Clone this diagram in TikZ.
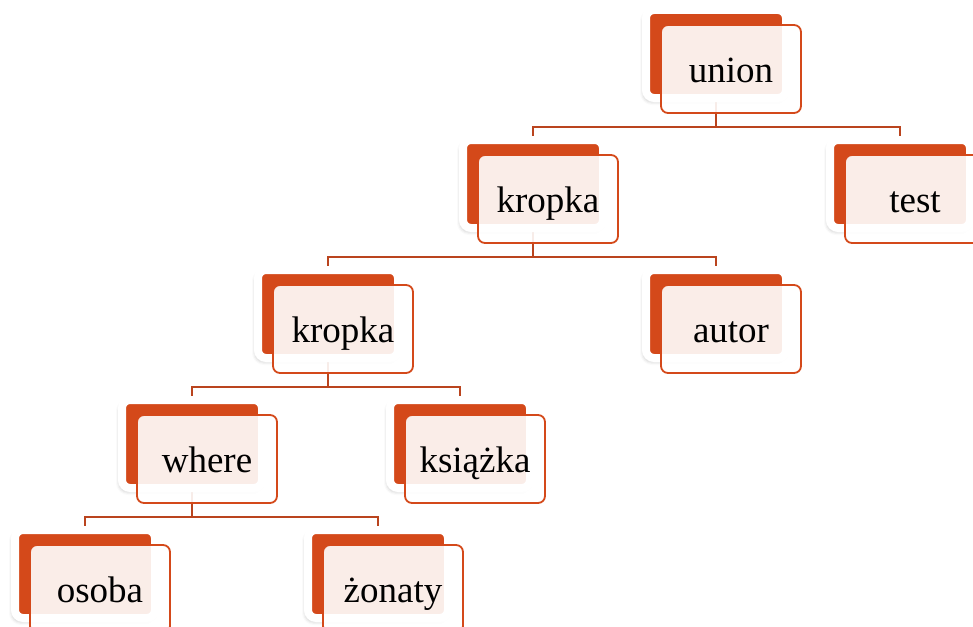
\documentclass[tikz,border=0pt]{standalone}
\usepackage{fontspec}
\setmainfont{Liberation Serif}
\usetikzlibrary{shadows.blur,backgrounds}
\definecolor{accent}{RGB}{212,73,26}
\definecolor{wire}{RGB}{186,68,30}
\begin{document}
\begin{tikzpicture}[x=1pt,y=-1pt,
  tab/.style={rectangle, minimum width=140pt, minimum height=88pt, inner sep=0pt,
    fill=accent, draw=white, line width=8pt, rounded corners=8pt,
    blur shadow={shadow xshift=-2pt, shadow yshift=-3pt, shadow blur radius=4pt, shadow opacity=30}},
  card/.style={rectangle, minimum width=140pt, minimum height=88pt, inner sep=0pt,
    draw=accent, line width=1.8pt, rounded corners=7pt, fill=white, fill opacity=0.9,
    text opacity=1, text=black, text height=26pt, text depth=0pt,
    font=\fontsize{37}{44}\selectfont},
  conn/.style={draw=wire, line width=1.8pt}]
\useasboundingbox (0,0) rectangle (973,626);

% orange tabs behind each entry
\node[tab] (union)   at (716,54)  {};
\node[tab] (kropkaA) at (533,184) {};
\node[tab] (test)    at (900,184) {};
\node[tab] (kropkaB) at (328,314) {};
\node[tab] (autor)   at (716,314) {};
\node[tab] (where)   at (192,444) {};
\node[tab] (ksiazka) at (460,444) {};
\node[tab] (osoba)   at (85,574)  {};
\node[tab] (zonaty)  at (378,574) {};

% translucent labelled cards in front
\node[card] (unionT)   at ([shift={(15,15)}]union.center)   {union};
\node[card] (kropkaAT) at ([shift={(15,15)}]kropkaA.center) {kropka};
\node[card] (testT)    at ([shift={(15,15)}]test.center)    {test};
\node[card] (kropkaBT) at ([shift={(15,15)}]kropkaB.center) {kropka};
\node[card] (autorT)   at ([shift={(15,15)}]autor.center)   {autor};
\node[card] (whereT)   at ([shift={(15,15)}]where.center)   {where};
\node[card] (ksiazkaT) at ([shift={(15,15)}]ksiazka.center) {książka};
\node[card] (osobaT)   at ([shift={(15,15)}]osoba.center)   {osoba};
\node[card] (zonatyT)  at ([shift={(15,15)}]zonaty.center)  {żonaty};

% tree connectors
\begin{scope}[on background layer]
  \draw[conn] (union.center) -- ++(0,73) -| (kropkaA.center);
  \draw[conn] (union.center) -- ++(0,73) -| (test.center);
  \draw[conn] (kropkaA.center) -- ++(0,73) -| (kropkaB.center);
  \draw[conn] (kropkaA.center) -- ++(0,73) -| (autor.center);
  \draw[conn] (kropkaB.center) -- ++(0,73) -| (where.center);
  \draw[conn] (kropkaB.center) -- ++(0,73) -| (ksiazka.center);
  \draw[conn] (where.center) -- ++(0,73) -| (osoba.center);
  \draw[conn] (where.center) -- ++(0,73) -| (zonaty.center);
\end{scope}
\end{tikzpicture}
\end{document}
